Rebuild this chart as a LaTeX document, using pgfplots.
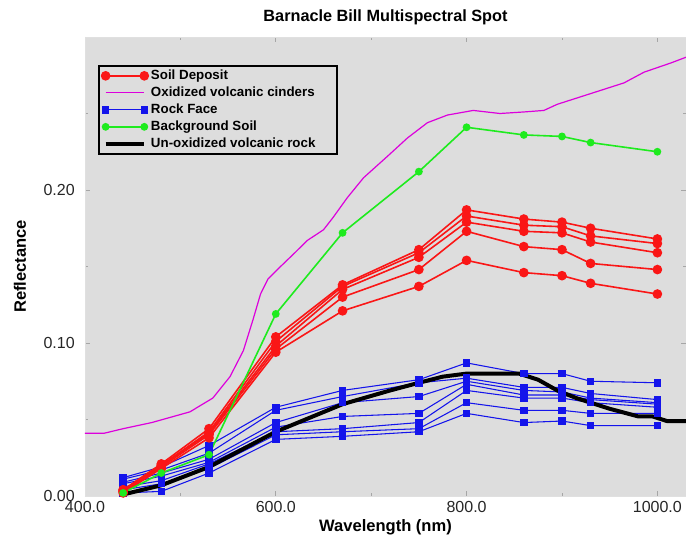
\documentclass[border=0pt]{standalone}
\usepackage{fontspec}
\setmainfont{Liberation Sans}
\usepackage{pgfplots}
\usepackage{pgfplotstable}
\pgfplotsset{compat=1.18}
\definecolor{cred}{RGB}{250,22,22}
\definecolor{cblue}{RGB}{20,20,235}
\definecolor{cgreen}{RGB}{30,235,30}
\definecolor{cmag}{RGB}{220,0,220}
\definecolor{bggray}{RGB}{221,221,221}

\pgfplotstableread{
wl a b c d e
440 0.004 0.004 0.003 0.003 0.002
480 0.021 0.020 0.020 0.019 0.018
530 0.044 0.042 0.041 0.040 0.038
600 0.104 0.101 0.098 0.096 0.094
670 0.138 0.137 0.135 0.130 0.121
750 0.161 0.159 0.156 0.148 0.137
800 0.187 0.183 0.179 0.173 0.154
860 0.181 0.177 0.173 0.163 0.146
900 0.179 0.176 0.172 0.161 0.144
930 0.175 0.170 0.166 0.152 0.139
1000 0.168 0.165 0.159 0.148 0.132
}\redtab

\pgfplotstableread{
wl b1 b2 b3 b4 b5 b6 b7
440 0.012 0.011 0.009 0.008 0.006 0.004 0.002
480 0.019 0.017 0.015 0.013 0.010 0.008 0.003
530 0.033 0.028 0.024 0.022 0.021 0.018 0.015
600 0.058 0.056 0.048 0.045 0.042 0.040 0.037
670 0.069 0.065 0.061 0.052 0.044 0.042 0.039
750 0.076 0.074 0.065 0.054 0.048 0.044 0.042
800 0.087 0.077 0.075 0.073 0.069 0.061 0.054
860 0.080 0.071 0.069 0.066 0.064 0.056 0.048
900 0.080 0.071 0.068 0.066 0.064 0.056 0.049
930 0.075 0.067 0.064 0.063 0.061 0.054 0.046
1000 0.074 0.063 0.061 0.060 0.058 0.054 0.046
}\bluetab

\pgfplotstableread{
wl g
440 0.002
480 0.015
530 0.027
600 0.119
670 0.172
750 0.212
800 0.241
860 0.236
900 0.235
930 0.231
1000 0.225
}\greentab

\pgfplotsset{
 redsty/.style={color=cred, line width=1.2pt, mark=*, mark size=3pt, mark options={solid}},
 bluesty/.style={color=cblue, line width=0.8pt, mark=square*, mark size=2.4pt, mark options={solid}},
 greensty/.style={color=cgreen, line width=1.2pt, mark=*, mark size=2.3pt, mark options={solid}},
 magsty/.style={color=cmag, line width=0.9pt, no marks, line join=round},
 blacksty/.style={color=black, line width=3pt, no marks, line join=round},
}

\begin{document}
\begin{tikzpicture}
\path[use as bounding box] (-63.75pt,-37.5pt) rectangle (450.75pt,372pt);
\begin{axis}[
  at={(0pt,0pt)}, anchor=south west,
  width=450.75pt, height=344.25pt, scale only axis,
  xmin=400, xmax=1030, ymin=0, ymax=0.3,
  xtick={400,600,800,1000}, minor xtick={500,700,900},
  ytick={0,0.1,0.2}, minor ytick={0.05,0.15,0.25},
  tick align=inside, major tick length=4pt, minor tick length=2.5pt,
  tick style={black!35, line width=0.6pt},
  axis background/.style={fill=bggray},
  axis line style={draw=black!12},
  xticklabel style={anchor=center, inner sep=0pt, yshift=-8.25pt,
    font=\fontsize{12}{14}\selectfont, text=black!85,
    /pgf/number format/.cd, fixed, fixed zerofill, precision=1, 1000 sep={}, assume math mode=true},
  yticklabel style={anchor=east, inner sep=0pt, xshift=-7.5pt,
    font=\fontsize{12}{14}\selectfont, text=black!85,
    /pgf/number format/.cd, fixed, fixed zerofill, precision=2, assume math mode=true},
  title={Barnacle Bill Multispectral Spot},
  every axis title/.style={at={(axis description cs:0.5,1.0436)}, anchor=center, font=\bfseries\fontsize{12.2}{14}\selectfont},
  xlabel={Wavelength (nm)},
  xlabel style={at={(axis description cs:0.5,-0.0675)}, anchor=center, font=\bfseries\fontsize{12.4}{14}\selectfont},
  ylabel={Reflectance},
  ylabel style={at={(axis description cs:-0.1082,0.5)}, anchor=center, rotate=0, font=\bfseries\fontsize{12.4}{14}\selectfont},
  legend image code/.code={\draw[mark repeat=2,mark phase=1,#1] plot coordinates {(0pt,0pt) (14.5pt,0pt) (29pt,0pt)};},
  legend cell align=left,
  legend style={at={(axis description cs:0.0216,0.939)}, anchor=north west,
    fill=bggray, draw=black, line width=1.5pt, inner xsep=2pt, inner ysep=1pt,
    row sep=0pt, font=\bfseries\fontsize{10}{12}\selectfont,
    nodes={inner ysep=1.5pt, text height=7.5pt, text depth=2.25pt}},
]
\addlegendimage{redsty}\addlegendentry{Soil Deposit}
\addlegendimage{magsty}\addlegendentry{Oxidized volcanic cinders}
\addlegendimage{bluesty}\addlegendentry{Rock Face}
\addlegendimage{greensty}\addlegendentry{Background Soil}
\addlegendimage{blacksty}\addlegendentry{Un-oxidized volcanic rock\hspace*{12pt}}

\addplot[magsty, forget plot] coordinates {
(400,0.041) (420,0.041) (440,0.044) (470,0.048) (510,0.055) (534,0.064)
(552,0.078) (566,0.095) (576,0.115) (584,0.132) (592,0.142) (605,0.150)
(620,0.159) (633,0.167) (650,0.174) (660,0.182) (675,0.195) (692,0.208)
(717,0.222) (738,0.234) (759,0.244) (780,0.249) (807,0.252) (835,0.250)
(860,0.251) (881,0.252) (895,0.256) (930,0.263) (965,0.270) (986,0.277)
(1014,0.283) (1031,0.287)};

\addplot[bluesty, forget plot] table[x=wl,y=b1]{\bluetab};
\addplot[bluesty, forget plot] table[x=wl,y=b2]{\bluetab};
\addplot[bluesty, forget plot] table[x=wl,y=b3]{\bluetab};
\addplot[bluesty, forget plot] table[x=wl,y=b4]{\bluetab};
\addplot[bluesty, forget plot] table[x=wl,y=b5]{\bluetab};
\addplot[bluesty, forget plot] table[x=wl,y=b6]{\bluetab};
\addplot[bluesty, forget plot] table[x=wl,y=b7]{\bluetab};

\addplot[redsty, forget plot] table[x=wl,y=a]{\redtab};
\addplot[redsty, forget plot] table[x=wl,y=b]{\redtab};
\addplot[redsty, forget plot] table[x=wl,y=c]{\redtab};
\addplot[redsty, forget plot] table[x=wl,y=d]{\redtab};
\addplot[redsty, forget plot] table[x=wl,y=e]{\redtab};

\addplot[greensty, forget plot] table[x=wl,y=g]{\greentab};

\addplot[blacksty, forget plot] coordinates {
(440,0.001) (480,0.007) (530,0.019) (600,0.042) (670,0.060) (720,0.069)
(750,0.074) (775,0.078) (800,0.080) (830,0.080) (855,0.080) (875,0.076)
(895,0.069) (915,0.064) (950,0.057) (980,0.052) (995,0.052) (1010,0.049)
(1031,0.049)};
\end{axis}
\end{tikzpicture}
\end{document}
